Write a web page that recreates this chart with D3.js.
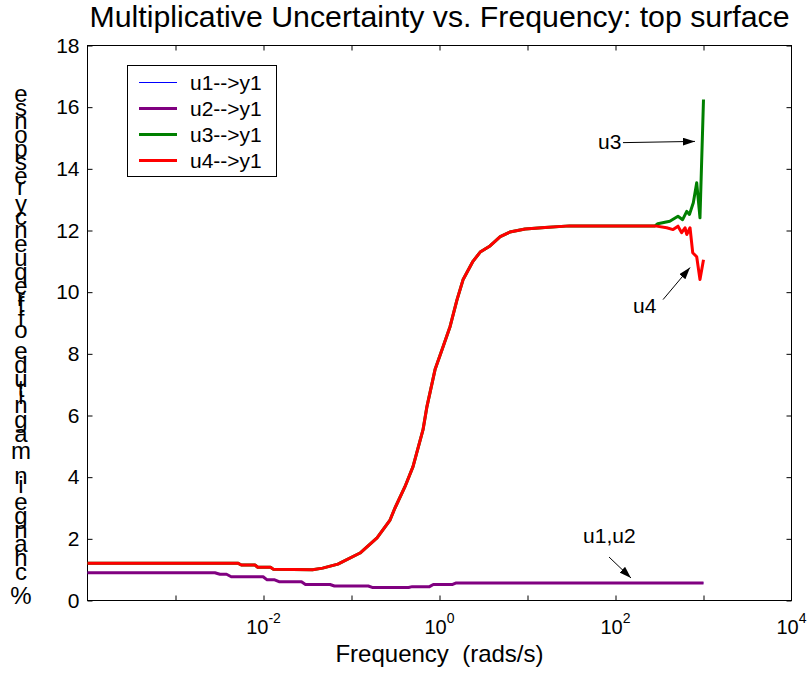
<!DOCTYPE html>
<html>
<head>
<meta charset="utf-8">
<script src="https://cdn.jsdelivr.net/npm/d3@7"></script>
<style>
  html, body { margin: 0; padding: 0; background: #fff; }
  svg { display: block; font-family: "Liberation Sans", Arial, Helvetica, sans-serif; }
</style>
</head>
<body>
<svg id="chart" width="812" height="678"></svg>
<script>
// ---------- data ----------
const titleText = "Multiplicative Uncertainty vs. Frequency: top surface";
const xLabelText = "Frequency  (rads/s)";
const yLabelText = "% change in magnitude of frequency response";

const seriesNames = ["u1-->y1", "u2-->y1", "u3-->y1", "u4-->y1"];
const seriesColors = ["#0000ff", "#800080", "#008000", "#ff0000"];

const yTickValues = [0, 2, 4, 6, 8, 10, 12, 14, 16, 18];
const xTickValues = [1e-3, 1e-2, 1e-1, 1, 10, 100, 1000];
const xLabelExponents = [-2, 0, 2, 4];

// u1 and u2 (identical curves)
const u12Freq = [1e-4, 2.8e-3, 3.2e-3, 3.8e-3, 4.3e-3, 9.9e-3, 1.1e-2, 1.34e-2, 1.5e-2, 2.7e-2,
                 3.0e-2, 5.7e-2, 6.4e-2, 0.155, 0.175, 0.445, 0.49, 0.77, 0.85, 1.41, 1.55, 1000];
const u1Vals  = [0.90, 0.90, 0.85, 0.85, 0.77, 0.77, 0.67, 0.67, 0.61, 0.61,
                 0.52, 0.52, 0.47, 0.47, 0.42, 0.42, 0.45, 0.45, 0.52, 0.52, 0.57, 0.57];
const u2Vals  = [0.90, 0.90, 0.85, 0.85, 0.77, 0.77, 0.67, 0.67, 0.61, 0.61,
                 0.52, 0.52, 0.47, 0.47, 0.42, 0.42, 0.45, 0.45, 0.52, 0.52, 0.57, 0.57];

// u3 and u4 share the rise; they part above ~280 rad/s
const riseFreq = [1e-4, 5.1e-3, 5.6e-3, 8.0e-3, 8.6e-3, 1.2e-2, 1.3e-2, 3.6e-2, 4.7e-2, 7.0e-2,
                  0.125, 0.195, 0.274, 0.312, 0.405, 0.5, 0.65, 0.72, 0.89, 1.10,
                  1.32, 1.58, 1.85, 2.4, 2.9, 3.75, 4.9, 6.3, 9.4, 15.8, 30, 281];
const riseVals = [1.21, 1.21, 1.15, 1.15, 1.08, 1.08, 1.01, 1.00, 1.05, 1.18,
                  1.54, 2.03, 2.61, 3.00, 3.69, 4.34, 5.54, 6.29, 7.49, 8.24,
                  8.89, 9.75, 10.4, 11.0, 11.3, 11.5, 11.8, 11.95, 12.05, 12.1, 12.15, 12.15];
const u3TailFreq = [302, 414, 513, 579, 645, 692, 766, 837, 912, 1000];
const u3TailVals = [12.22, 12.3, 12.46, 12.35, 12.62, 12.52, 12.9, 13.55, 12.41, 16.25];
const u4TailFreq = [382, 451, 513, 565, 617, 645, 703, 754, 837, 912, 1000];
const u4TailVals = [12.09, 12.03, 12.14, 11.93, 12.09, 11.87, 12.09, 11.28, 11.15, 10.41, 11.05];

// annotations: text anchor and arrow (data coordinates)
const annoLabels   = ["u3", "u4", "u1,u2"];
const annoTextPos  = [[63.2, 14.63], [158, 9.33], [42.8, 1.87]];
const annoArrowFrom = [[121.6, 14.85], [347, 9.76], [84.4, 1.41]];
const annoArrowTo   = [[800, 14.89], [703, 10.80], [150, 0.73]];

// ---------- layout ----------
const svg = d3.select("#chart");
const pLeft = 87.5, pRight = 791.5, pTop = 45.5, pBottom = 600.5;
const FONT = '"Liberation Sans", Arial, Helvetica, sans-serif';

const x = d3.scaleLog().domain([1e-4, 1e4]).range([pLeft, pRight]);
const y = d3.scaleLinear().domain([0, 18]).range([pBottom, pTop]);

const zip = (f, v) => f.map((d, i) => [d, v[i]]);
const series = [
  zip(u12Freq, u1Vals),
  zip(u12Freq, u2Vals),
  zip(riseFreq.concat(u3TailFreq), riseVals.concat(u3TailVals)),
  zip(riseFreq.concat(u4TailFreq), riseVals.concat(u4TailVals))
];
const widths = [1, 3, 3, 3];

// box
svg.append("rect").attr("x", pLeft).attr("y", pTop)
  .attr("width", pRight - pLeft).attr("height", pBottom - pTop)
  .attr("fill", "none").attr("stroke", "#000").attr("stroke-width", 1);

// axes ticks
function styleAxis(g) {
  g.select(".domain").remove();
  g.selectAll(".tick line").attr("stroke", "#000").attr("stroke-width", 1);
}
svg.append("g").attr("transform", `translate(0,${pBottom})`)
  .call(d3.axisBottom(x).tickValues(xTickValues).tickSize(-5).tickFormat(""))
  .call(styleAxis);
svg.append("g").attr("transform", `translate(0,${pTop})`)
  .call(d3.axisTop(x).tickValues(xTickValues).tickSize(-5).tickFormat(""))
  .call(styleAxis);
const gy = svg.append("g").attr("transform", `translate(${pLeft},0)`)
  .call(d3.axisLeft(y).tickValues(yTickValues).tickSize(-5).tickPadding(8).tickFormat(d3.format("d")))
  .call(styleAxis);
gy.selectAll(".tick text").attr("font-family", FONT).attr("font-size", 21).attr("fill", "#000");
svg.append("g").attr("transform", `translate(${pRight},0)`)
  .call(d3.axisRight(y).tickValues(yTickValues).tickSize(-5).tickFormat(""))
  .call(styleAxis);

// x tick labels 10^n
xLabelExponents.forEach(e => {
  const t = svg.append("text")
    .attr("x", x(Math.pow(10, e))).attr("y", 634)
    .attr("text-anchor", "middle")
    .attr("font-family", FONT).attr("font-size", 20).attr("fill", "#000");
  t.append("tspan").text("10");
  t.append("tspan").attr("dy", -11).attr("font-size", 14).text(String(e));
});

// lines
const line = d3.line().x(d => x(d[0])).y(d => y(d[1]));
series.forEach((s, i) => {
  svg.append("path").datum(s)
    .attr("d", line)
    .attr("fill", "none")
    .attr("stroke", seriesColors[i])
    .attr("stroke-width", widths[i])
    .attr("stroke-linejoin", "round");
});

// legend
const lg = svg.append("g");
lg.append("rect").attr("x", 127.5).attr("y", 65.5).attr("width", 149).attr("height", 111)
  .attr("fill", "#fff").attr("stroke", "#000").attr("stroke-width", 1);
seriesNames.forEach((n, i) => {
  const cy = 82 + i * 26;
  const ly = widths[i] % 2 === 1 ? cy + 0.5 : cy;
  lg.append("line").attr("x1", 139).attr("x2", 177).attr("y1", ly).attr("y2", ly)
    .attr("stroke", seriesColors[i]).attr("stroke-width", widths[i]);
  lg.append("text").attr("x", 190).attr("y", cy + 7.5)
    .attr("font-family", FONT).attr("font-size", 21).attr("fill", "#000").text(n);
});

// annotations
const defs = svg.append("defs");
defs.append("marker").attr("id", "arrow").attr("viewBox", "0 0 12 8")
  .attr("refX", 12).attr("refY", 4).attr("markerWidth", 12).attr("markerHeight", 8)
  .attr("markerUnits", "userSpaceOnUse").attr("orient", "auto")
  .append("path").attr("d", "M0,0 L12,4 L0,8 Z").attr("fill", "#000");
annoLabels.forEach((lab, i) => {
  svg.append("text")
    .attr("x", x(annoTextPos[i][0])).attr("y", y(annoTextPos[i][1]))
    .attr("font-family", FONT).attr("font-size", 21).attr("fill", "#000").text(lab);
  svg.append("line")
    .attr("x1", x(annoArrowFrom[i][0])).attr("y1", y(annoArrowFrom[i][1]))
    .attr("x2", x(annoArrowTo[i][0])).attr("y2", y(annoArrowTo[i][1]))
    .attr("stroke", "#000").attr("stroke-width", 1).attr("marker-end", "url(#arrow)");
});

// title
svg.append("text").attr("x", (pLeft + pRight) / 2).attr("y", 27)
  .attr("text-anchor", "middle")
  .attr("font-family", FONT).attr("font-size", 30).attr("fill", "#000")
  .attr("textLength", 700).attr("lengthAdjust", "spacingAndGlyphs")
  .text(titleText);

// x label
svg.append("text").attr("x", (pLeft + pRight) / 2).attr("y", 662)
  .attr("text-anchor", "middle")
  .attr("font-family", FONT).attr("font-size", 24).attr("fill", "#000")
  .style("white-space", "pre")
  .text(xLabelText);

// y label: upright glyphs stacked bottom-to-top along the rotated baseline
const yfs = 24;
const ctx = document.createElement("canvas").getContext("2d");
ctx.font = `${yfs}px ${FONT}`;
const chars = Array.from(yLabelText);
let acc = 0;
const centers = chars.map(c => { const w = ctx.measureText(c).width; const m = acc + w / 2; acc += w; return m; });
const c0 = centers[0], c1 = centers[centers.length - 1];
const yPos = d3.scaleLinear().domain([c0, c1]).range([597, 95]);
chars.forEach((c, i) => {
  if (c === " ") return;
  svg.append("text")
    .attr("x", 21).attr("y", yPos(centers[i]) + yfs * 0.3)
    .attr("text-anchor", "middle")
    .attr("font-family", FONT).attr("font-size", yfs).attr("fill", "#000")
    .text(c);
});
</script>
</body>
</html>
